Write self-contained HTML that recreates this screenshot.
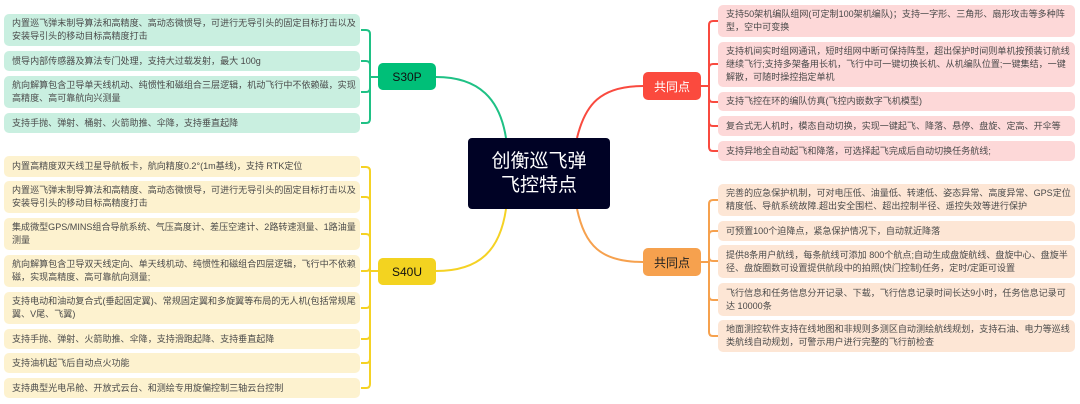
<!DOCTYPE html>
<html><head><meta charset="utf-8"><style>
body{margin:0;width:1080px;height:404px;background:#fff;position:relative;overflow:hidden;font-family:"Liberation Sans","Noto Sans CJK SC",sans-serif;}
.i{position:absolute;border-radius:5px;font-size:9.05px;line-height:13px;color:#4a4a4a;padding:0 2px 0 8px;box-sizing:border-box;display:flex;align-items:center;}
.g{background:#c9efe0;left:4px;width:356px}
.y{background:#fdf2cf;left:4px;width:356px}
.r{background:#fdd8d8;left:718px;width:357px}
.o{background:#fde6d5;left:718px;width:357px}
.n{position:absolute;border-radius:5px;font-size:12px;display:flex;align-items:center;justify-content:center;}
svg{position:absolute;left:0;top:0}
</style></head><body>
<svg width="1080" height="404" fill="none" stroke-width="2">
<g stroke="#1fc185">
<path d="M361,30 H366 Q370,30 370,34 V119 Q370,123 366,123 H361"/>
<path d="M361,61 H366 Q370,61 370,65 M370,88 Q370,92 366,92 H361 M370,77 H378"/>
<path d="M436,77 C480,77 500,100 506,138"/>
</g>
<g stroke="#f5d224">
<path d="M361,167 H366 Q370,167 370,171 V384 Q370,388 366,388 H361"/>
<path d="M361,197 H366 Q370,197 370,201 M361,234 H366 Q370,234 370,238 M370,267 Q370,271 366,271 H361 M370,304 Q370,308 366,308 H361 M370,335 Q370,339 366,339 H361 M370,359 Q370,363 366,363 H361 M370,271 H378"/>
<path d="M436,271 C480,271 500,250 506,209"/>
</g>
<g stroke="#f94a3f">
<path d="M718,21 H713 Q709,21 709,25 V147 Q709,151 713,151 H718"/>
<path d="M718,64 H713 Q709,64 709,68 M709,98 Q709,102 713,102 H718 M709,122 Q709,126 713,126 H718 M709,86 H701"/>
<path d="M643,86 C600,86 585,105 577,138"/>
</g>
<g stroke="#f6a14e">
<path d="M718,200 H713 Q709,200 709,204 V332 Q709,336 713,336 H718"/>
<path d="M718,231 H713 Q709,231 709,235 M709,257 Q709,261 713,261 H718 M709,296 Q709,300 713,300 H718 M709,262 H701"/>
<path d="M643,262 C600,262 585,245 577,209"/>
</g>
</svg>
<div class="n" style="left:468px;top:138px;width:142px;height:71px;background:#000225;color:#fff;font-size:19px;line-height:24px;text-align:center;border-radius:4px">创衡巡飞弹<br>飞控特点</div>
<div class="n" style="left:378px;top:63px;width:58px;height:27px;background:#00bf78;color:#111">S30P</div>
<div class="n" style="left:378px;top:258px;width:58px;height:27px;background:#f3d320;color:#111">S40U</div>
<div class="n" style="left:643px;top:72px;width:58px;height:28px;background:#fb4a3e;color:#fff">共同点</div>
<div class="n" style="left:643px;top:248px;width:58px;height:28px;background:#f6a14e;color:#222">共同点</div>

<div class="i g" style="top:14px;height:32px">内置巡飞弹末制导算法和高精度、高动态微惯导，可进行无导引头的固定目标打击以及安装导引头的移动目标高精度打击</div>
<div class="i g" style="top:51px;height:20px">惯导内部传感器及算法专门处理，支持大过载发射，最大 100g</div>
<div class="i g" style="top:76px;height:32px">航向解算包含卫导单天线机动、纯惯性和磁组合三层逻辑，机动飞行中不依赖磁，实现高精度、高可靠航向兴测量</div>
<div class="i g" style="top:113px;height:20px">支持手抛、弹射、桶射、火箭助推、伞降，支持垂直起降</div>

<div class="i y" style="top:156px;height:21px">内置高精度双天线卫星导航板卡，航向精度0.2°(1m基线)，支持 RTK定位</div>
<div class="i y" style="top:181px;height:32px">内置巡飞弹末制导算法和高精度、高动态微惯导，可进行无导引头的固定目标打击以及安装导引头的移动目标高精度打击</div>
<div class="i y" style="top:218px;height:32px">集成微型GPS/MINS组合导航系统、气压高度计、差压空速计、2路转速测量、1路油量测量</div>
<div class="i y" style="top:255px;height:32px">航向解算包含卫导双天线定向、单天线机动、纯惯性和磁组合四层逻辑，飞行中不依赖磁，实现高精度、高可靠航向测量;</div>
<div class="i y" style="top:292px;height:32px">支持电动和油动复合式(垂起固定翼)、常规固定翼和多旋翼等布局的无人机(包括常规尾翼、V尾、飞翼)</div>
<div class="i y" style="top:329px;height:20px">支持手抛、弹射、火箭助推、伞降，支持滑跑起降、支持垂直起降</div>
<div class="i y" style="top:353px;height:20px">支持油机起飞后自动点火功能</div>
<div class="i y" style="top:378px;height:20px">支持典型光电吊舱、开放式云台、和测绘专用旋偏控制三轴云台控制</div>

<div class="i r" style="top:5px;height:32px">支持50架机编队组网(可定制100架机编队)；支持一字形、三角形、扇形攻击等多种阵型，空中可变换</div>
<div class="i r" style="top:42px;height:45px">支持机间实时组网通讯，短时组网中断可保持阵型，超出保护时间则单机按预装订航线继续飞行;支持多架备用长机，飞行中可一键切换长机、从机编队位置;一键集结，一键解散，可随时操控指定单机</div>
<div class="i r" style="top:92px;height:19px">支持飞控在环的编队仿真(飞控内嵌数字飞机模型)</div>
<div class="i r" style="top:116px;height:20px">复合式无人机时，模态自动切换，实现一键起飞、降落、悬停、盘旋、定高、开伞等</div>
<div class="i r" style="top:141px;height:20px">支持异地全自动起飞和降落，可选择起飞完成后自动切换任务航线;</div>

<div class="i o" style="top:184px;height:32px">完善的应急保护机制，可对电压低、油量低、转速低、姿态异常、高度异常、GPS定位精度低、导航系统故障.超出安全围栏、超出控制半径、遥控失效等进行保护</div>
<div class="i o" style="top:221px;height:20px">可预置100个迫降点，紧急保护情况下，自动就近降落</div>
<div class="i o" style="top:245px;height:33px">提供8条用户航线，每条航线可添加 800个航点;自动生成盘旋航线、盘旋中心、盘旋半径、盘旋圈数可设置提供航段中的拍照(快门控制)任务，定时/定距可设置</div>
<div class="i o" style="top:283px;height:33px">飞行信息和任务信息分开记录、下载，飞行信息记录时间长达9小时，任务信息记录可达 10000条</div>
<div class="i o" style="top:320px;height:32px">地面测控软件支持在线地图和非规则多测区自动测绘航线规划，支持石油、电力等巡线类航线自动规划，可警示用户进行完整的飞行前检查</div>
</body></html>
